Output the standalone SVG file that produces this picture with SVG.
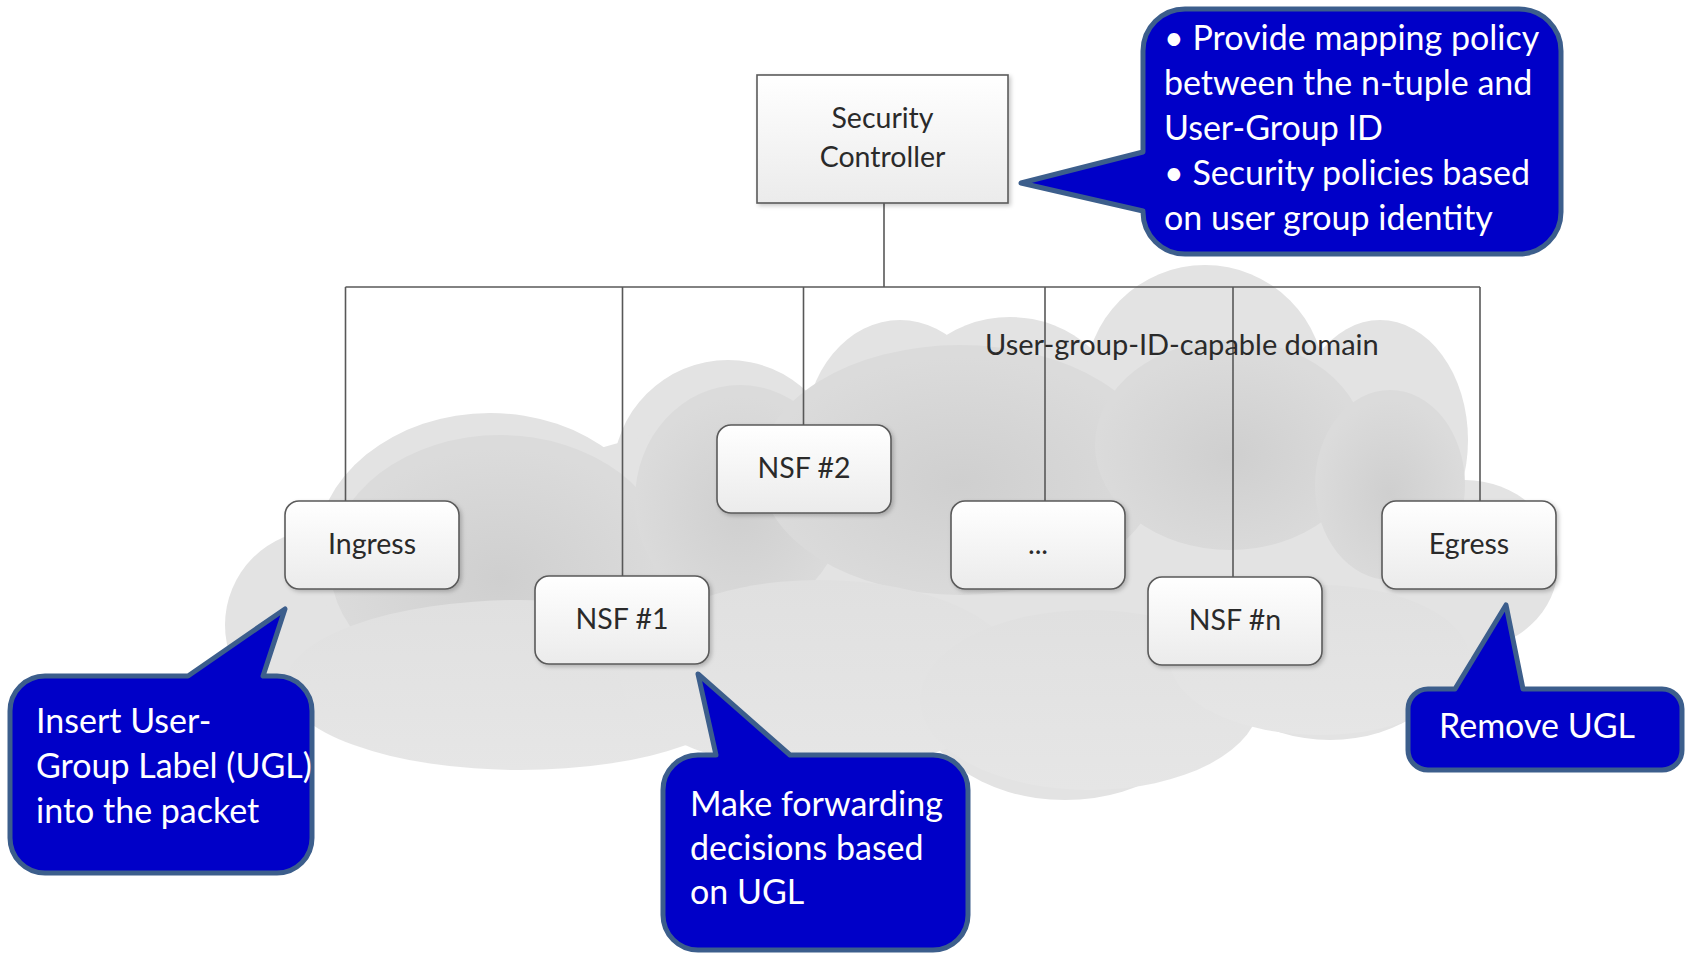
<svg xmlns="http://www.w3.org/2000/svg" width="1685" height="953" viewBox="0 0 1685 953">
<defs>
<style>
.node rect{fill:url(#boxg);stroke:#5a5a5a;stroke-width:1.6;filter:url(#sh)}
.ntxt{font-family:Lato,"Liberation Sans",sans-serif;font-size:28.5px;fill:#2a2a2a;text-anchor:middle}
.conn line{stroke:#585858;stroke-width:1.6}
.call path{fill:#0000c8;stroke:#3c5e8c;stroke-width:5;stroke-linejoin:round}
.ctxt{font-family:Lato,"Liberation Sans",sans-serif;font-size:34px;fill:#ffffff}
.cl{fill:#e3e3e3}
.dk{fill:url(#dkg)}
.lt{fill:url(#ltg)}
</style>
<linearGradient id="boxg" x1="0" y1="0" x2="0" y2="1">
<stop offset="0" stop-color="#ffffff"/>
<stop offset="1" stop-color="#ebebeb"/>
</linearGradient>
<radialGradient id="dkg" cx="0.5" cy="0.55" r="0.5">
<stop offset="0" stop-color="#cfcfcf"/>
<stop offset="1" stop-color="#dbdbdb"/>
</radialGradient>
<linearGradient id="ltg" x1="0" y1="0" x2="0" y2="1">
<stop offset="0" stop-color="#e0e0e0"/>
<stop offset="1" stop-color="#e6e6e6"/>
</linearGradient>
<filter id="sh" x="-10%" y="-10%" width="130%" height="130%">
<feDropShadow dx="2" dy="2" stdDeviation="2" flood-color="#000" flood-opacity="0.22"/>
</filter>
</defs>
<rect width="1685" height="953" fill="#ffffff"/>

<g id="cloud">
<ellipse class="cl" cx="320" cy="625" rx="95" ry="95"/>
<ellipse class="cl" cx="490" cy="555" rx="175" ry="142"/>
<circle class="cl" cx="728" cy="475" r="115"/>
<ellipse class="cl" cx="900" cy="435" rx="95" ry="115"/>
<ellipse class="cl" cx="1010" cy="425" rx="115" ry="108"/>
<circle class="cl" cx="1205" cy="385" r="120"/>
<ellipse class="cl" cx="1380" cy="440" rx="88" ry="120"/>
<ellipse class="cl" cx="1465" cy="565" rx="93" ry="85"/>
<ellipse class="cl" cx="1410" cy="610" rx="90" ry="65"/>
<ellipse class="cl" cx="1330" cy="640" rx="130" ry="100"/>
<ellipse class="cl" cx="1065" cy="690" rx="150" ry="110"/>
<ellipse class="cl" cx="820" cy="660" rx="170" ry="110"/>
<ellipse class="cl" cx="560" cy="660" rx="160" ry="105"/>
<ellipse class="cl" cx="900" cy="560" rx="450" ry="150"/>
<ellipse class="dk" cx="500" cy="565" rx="170" ry="130"/>
<ellipse class="dk" cx="740" cy="500" rx="105" ry="115"/>
<ellipse class="dk" cx="960" cy="470" rx="200" ry="125"/>
<ellipse class="dk" cx="1230" cy="445" rx="135" ry="105"/>
<ellipse class="dk" cx="1390" cy="485" rx="75" ry="95"/>
<ellipse class="lt" cx="520" cy="685" rx="235" ry="85"/>
<ellipse class="lt" cx="820" cy="675" rx="200" ry="95"/>
<ellipse class="lt" cx="1090" cy="700" rx="170" ry="90"/>
<ellipse class="lt" cx="1320" cy="660" rx="150" ry="75"/>
</g>

<g id="connectors" class="conn">
<line x1="884" y1="203" x2="884" y2="287"/>
<line x1="345.5" y1="287" x2="1480" y2="287"/>
<line x1="345.5" y1="287" x2="345.5" y2="501"/>
<line x1="622.5" y1="287" x2="622.5" y2="576"/>
<line x1="803.5" y1="287" x2="803.5" y2="425"/>
<line x1="1045" y1="287" x2="1045" y2="501"/>
<line x1="1233" y1="287" x2="1233" y2="577"/>
<line x1="1480" y1="287" x2="1480" y2="501"/>
</g>

<text x="985" y="355" font-family="Lato, 'Liberation Sans', sans-serif" font-size="29px" fill="#2a2a2a">User-group-ID-capable domain</text>

<g id="security-controller" class="node">
<rect x="757" y="75" width="251" height="128" rx="0"/>
<text class="ntxt" x="882.5" y="128">Security</text>
<text class="ntxt" x="882.5" y="167">Controller</text>
</g>
<g id="ingress" class="node">
<rect x="285" y="501" width="174" height="88" rx="14"/>
<text class="ntxt" x="372" y="554">Ingress</text>
</g>
<g id="nsf1" class="node">
<rect x="535" y="576" width="174" height="88" rx="14"/>
<text class="ntxt" x="622" y="629">NSF #1</text>
</g>
<g id="nsf2" class="node">
<rect x="717" y="425" width="174" height="88" rx="14"/>
<text class="ntxt" x="804" y="478">NSF #2</text>
</g>
<g id="dots" class="node">
<rect x="951" y="501" width="174" height="88" rx="14"/>
<text class="ntxt" x="1038" y="554">...</text>
</g>
<g id="nsfn" class="node">
<rect x="1148" y="577" width="174" height="88" rx="14"/>
<text class="ntxt" x="1235" y="630">NSF #n</text>
</g>
<g id="egress" class="node">
<rect x="1382" y="501" width="174" height="88" rx="14"/>
<text class="ntxt" x="1469" y="554">Egress</text>
</g>

<g id="callout-controller" class="call">
<path d="M1185,9 H1519 A42,42 0 0 1 1561,51 V212 A42,42 0 0 1 1519,254 H1185 A42,42 0 0 1 1143,212 V211 L1021,183 L1143,152 V51 A42,42 0 0 1 1185,9 Z"/>
<text class="ctxt" x="1164" y="50">• Provide mapping policy</text>
<text class="ctxt" x="1164" y="95">between the n-tuple and</text>
<text class="ctxt" x="1164" y="140">User-Group ID</text>
<text class="ctxt" x="1164" y="185">• Security policies based</text>
<text class="ctxt" x="1164" y="230">on user group identity</text>
</g>
<g id="callout-ingress" class="call">
<path d="M45,676 H188 L285,609 L263,676 H277 A35,35 0 0 1 312,711 V838 A35,35 0 0 1 277,873 H45 A35,35 0 0 1 10,838 V711 A35,35 0 0 1 45,676 Z"/>
<text class="ctxt" x="36" y="733">Insert User-</text>
<text class="ctxt" x="36" y="778">Group Label (UGL)</text>
<text class="ctxt" x="36" y="823">into the packet</text>
</g>
<g id="callout-nsf1" class="call">
<path d="M698,755 H716 L698,674 L790,755 H933 A35,35 0 0 1 968,790 V915 A35,35 0 0 1 933,950 H698 A35,35 0 0 1 663,915 V790 A35,35 0 0 1 698,755 Z"/>
<text class="ctxt" x="690" y="816">Make forwarding</text>
<text class="ctxt" x="690" y="860">decisions based</text>
<text class="ctxt" x="690" y="904">on UGL</text>
</g>
<g id="callout-egress" class="call">
<path d="M1428,689 H1455 L1506,605 L1523,689 H1662 A20,20 0 0 1 1682,709 V750 A20,20 0 0 1 1662,770 H1428 A20,20 0 0 1 1408,750 V709 A20,20 0 0 1 1428,689 Z"/>
<text class="ctxt" x="1439" y="738">Remove UGL</text>
</g>
</svg>
